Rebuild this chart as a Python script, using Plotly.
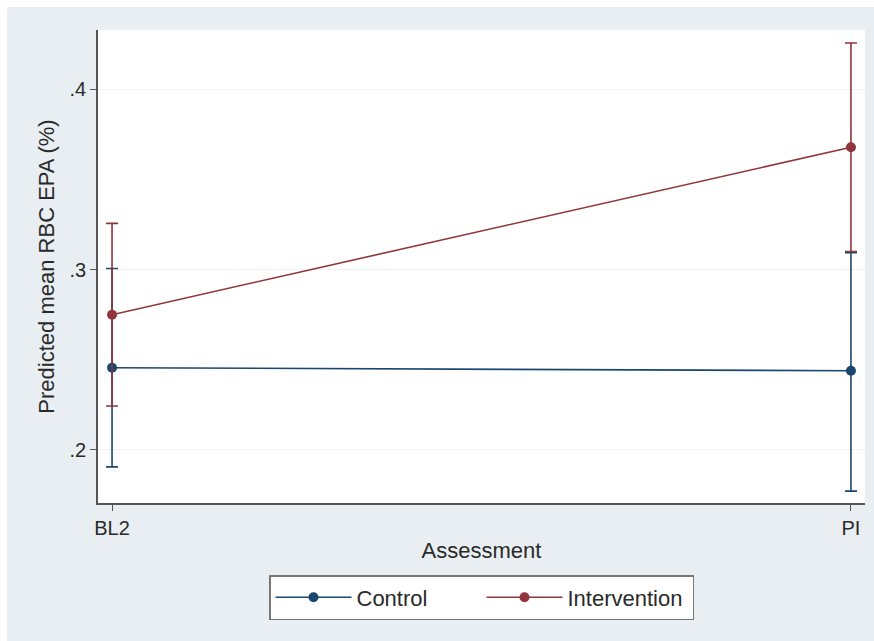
import plotly.graph_objects as go

# ---- data ----
categories = ["BL2", "PI"]
x_pos = [0, 1]
control_mean = [0.2456, 0.2439]
control_lo = [0.1906, 0.1772]
control_hi = [0.3006, 0.3094]
interv_mean = [0.2750, 0.3678]
interv_lo = [0.2244, 0.3100]
interv_hi = [0.3256, 0.4256]
y_ticks = [0.2, 0.3, 0.4]
y_tick_labels = [".2", ".3", ".4"]

NAVY = "#1a476f"
MAROON = "#90353b"
PANEL = "#e8eef1"
FONT = "Liberation Sans, Arial, sans-serif"

def series(name, mean, lo, hi, color):
    return go.Scatter(
        x=x_pos, y=mean, name=name, mode="lines+markers",
        line=dict(color=color, width=1.6),
        marker=dict(color=color, size=10),
        error_y=dict(type="data", symmetric=False,
                     array=[h - m for h, m in zip(hi, mean)],
                     arrayminus=[m - l for m, l in zip(mean, lo)],
                     color=color, thickness=1.6, width=6),
    )

fig = go.Figure()
fig.add_trace(series("Control", control_mean, control_lo, control_hi, NAVY))
fig.add_trace(series("Intervention", interv_mean, interv_lo, interv_hi, MAROON))

W, H = 874, 641
L, R, T, B = 98, 9, 30, 138
pw, ph = W - L - R, H - T - B

def px_x(p):
    return (p - L) / pw

def px_y(p):
    return (H - B - p) / ph

fig.update_layout(
    width=W, height=H,
    margin=dict(l=L, r=R, t=T, b=B),
    paper_bgcolor=PANEL, plot_bgcolor="white",
    font=dict(family=FONT, size=20, color="#2a2a2a"),
    showlegend=True,
    legend=dict(
        orientation="h", x=0.5, xanchor="center", y=px_y(575), yanchor="top",
        bgcolor="white", bordercolor="#777777", borderwidth=1.5,
        font=dict(size=22, color="#2a2a2a"),
        entrywidth=120, itemwidth=76,
    ),
    xaxis=dict(
        range=[-0.019, 1.019], tickmode="array", tickvals=x_pos, ticktext=categories,
        showgrid=False, zeroline=False, showline=True, linecolor="#555555", linewidth=1.5,
        ticks="outside", ticklen=6, tickcolor="#555555", tickwidth=1.2,
        tickfont=dict(size=20),
        title=dict(text="Assessment", standoff=5, font=dict(size=22)),
    ),
    yaxis=dict(
        range=[0.1706, 0.4328], tickmode="array", tickvals=y_ticks, ticktext=y_tick_labels,
        showgrid=True, gridcolor="#eef2f4", gridwidth=1, zeroline=False,
        showline=True, linecolor="#555555", linewidth=1.5,
        ticks="outside", ticklen=6, tickcolor="#555555", tickwidth=1.2,
        tickfont=dict(size=20),
        title=dict(text="Predicted mean RBC EPA (%)", standoff=9, font=dict(size=22)),
    ),
    shapes=[
        dict(type="rect", xref="paper", yref="paper", layer="below",
             x0=px_x(0), x1=px_x(W), y0=px_y(7), y1=px_y(-2),
             fillcolor="white", line=dict(width=0)),
        dict(type="rect", xref="paper", yref="paper", layer="below",
             x0=px_x(-2), x1=px_x(7), y0=px_y(H + 2), y1=px_y(-2),
             fillcolor="white", line=dict(width=0)),
    ],
)

fig.write_html("out.html")
